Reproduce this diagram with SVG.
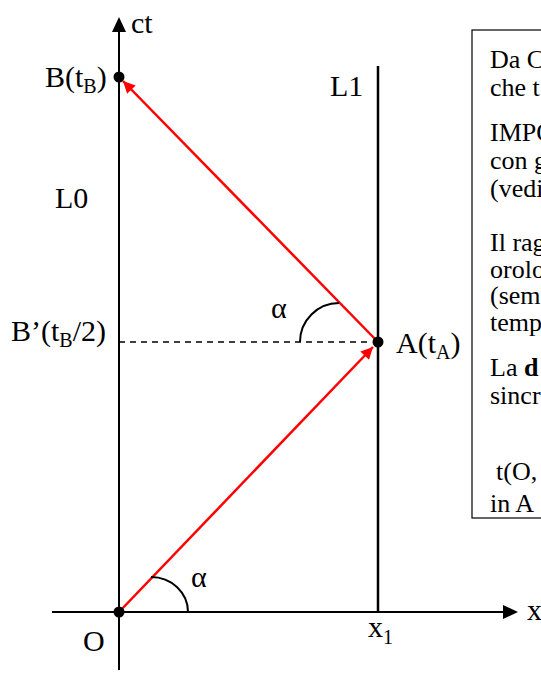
<svg xmlns="http://www.w3.org/2000/svg" width="541" height="673" viewBox="0 0 541 673">
<defs>
<style>
text{font-family:'Liberation Serif','Times New Roman',serif;fill:#000}
.lbl{font-size:30px}
.sub{font-size:20px}
.box{font-size:26px}
.ax{stroke:#000;stroke-width:2;fill:none}
.red{stroke:#ff0000;stroke-width:2.5;fill:none}
</style>
<marker id="rh" viewBox="0 0 10 10" refX="10" refY="5" markerWidth="15" markerHeight="12" markerUnits="userSpaceOnUse" orient="auto"><path d="M0,0 L10,5 L0,10 z" fill="#ff0000"/></marker>
</defs>
<rect width="541" height="673" fill="#fff"/>
<g id="connectors">
<line class="ax" x1="119" y1="670" x2="119" y2="32"/>
<path d="M112,32 L119,17 L126,32 z" fill="#000"/>
<line class="ax" x1="52" y1="612" x2="503" y2="612"/>
<path d="M503,605 L518,612 L503,619 z" fill="#000"/>
<line x1="378" y1="66" x2="378" y2="612" stroke="#000" stroke-width="2.5"/>
<line x1="119" y1="342" x2="372" y2="342" stroke="#000" stroke-width="1.5" stroke-dasharray="6,5"/>
<line class="red" x1="119" y1="612" x2="373" y2="347" marker-end="url(#rh)"/>
<line class="red" x1="378" y1="342" x2="123" y2="81" marker-end="url(#rh)"/>
<path d="M300,342 A39,39 0 0 1 339,303" fill="none" stroke="#000" stroke-width="2"/>
<path d="M151,577 A37,35 0 0 1 188,612" fill="none" stroke="#000" stroke-width="2"/>
</g>
<g id="O"><circle cx="119" cy="612" r="5.5" fill="#000"/><text class="lbl" x="83" y="651">O</text></g>
<g id="A"><circle cx="378" cy="342" r="5.5" fill="#000"/><text class="lbl" x="396" y="353">A(t<tspan class="sub" dy="6">A</tspan><tspan dy="-6">)</tspan></text></g>
<g id="B"><circle cx="119" cy="77" r="5.5" fill="#000"/><text class="lbl" x="45" y="87">B(t<tspan class="sub" dy="6">B</tspan><tspan dy="-6">)</tspan></text></g>
<g id="Bp"><text class="lbl" x="11" y="341">B’(t<tspan class="sub" dy="6">B</tspan><tspan dy="-6">/2)</tspan></text></g>
<g id="labels">
<text class="lbl" x="131" y="33">ct</text>
<text class="lbl" x="330" y="96">L1</text>
<text class="lbl" x="55" y="208">L0</text>
<text class="lbl" x="271" y="318">α</text>
<text class="lbl" x="191" y="587">α</text>
<text class="lbl" x="368" y="637">x<tspan class="sub" dy="7">1</tspan></text>
<text class="lbl" x="527" y="620">x</text>
</g>
<g id="note">
<rect x="472" y="30" width="80" height="488" fill="#fff" stroke="#000" stroke-width="1.2"/>
<text class="box" x="490" y="68">Da C</text>
<text class="box" x="490" y="96">che t</text>
<text class="box" x="490" y="141">IMPO</text>
<text class="box" x="490" y="169">con g</text>
<text class="box" x="490" y="197">(vedi</text>
<text class="box" x="490" y="251">Il rag</text>
<text class="box" x="490" y="278">orolo</text>
<text class="box" x="490" y="304">(sem</text>
<text class="box" x="490" y="331">temp</text>
<text class="box" x="490" y="376">La <tspan font-weight="bold">d</tspan></text>
<text class="box" x="490" y="404">sincr</text>
<text class="box" x="496" y="480">t(O,</text>
<text class="box" x="490" y="512">in A</text>
</g>
</svg>
